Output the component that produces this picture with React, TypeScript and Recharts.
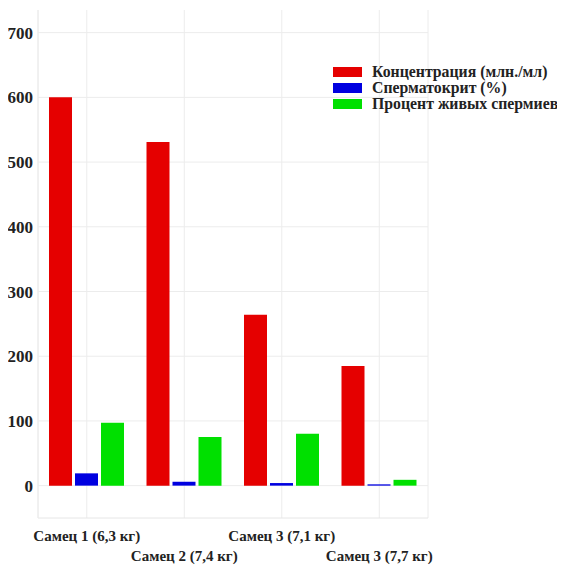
import React from 'react';
import { BarChart, Bar, XAxis, YAxis, CartesianGrid } from 'recharts';

const males = ['Самец 1 (6,3 кг)', 'Самец 2 (7,4 кг)', 'Самец 3 (7,1 кг)', 'Самец 3 (7,7 кг)'];
const concentration = [600, 531, 264, 185];
const spermatocrit = [19, 6, 4, 2];
const liveSperm = [97, 75, 80, 9];
const yTicks = [0, 100, 200, 300, 400, 500, 600, 700];

const series = [
  { key: 'conc', name: 'Концентрация (млн./мл)', color: '#e50000' },
  { key: 'crit', name: 'Сперматокрит (%)', color: '#0000e0' },
  { key: 'live', name: 'Процент живых спермиев', color: '#00e000' },
];

const data = males.map((name, i) => ({
  name,
  conc: concentration[i],
  crit: spermatocrit[i],
  live: liveSperm[i],
}));

const FONT = '"Liberation Serif", "Times New Roman", serif';

// labels alternate between two rows
const StaggeredTick = (props: any) => {
  const { x, y, payload, index } = props;
  const dy = index % 2 === 0 ? 15 : 35;
  return (
    <text x={x} y={y + dy} textAnchor="middle" fontFamily={FONT} fontWeight="bold" fontSize={15} fill="#222">
      {payload.value}
    </text>
  );
};

const LegendBox = () => (
  <div style={{ position: 'absolute', top: 64, left: 333, fontFamily: FONT, fontWeight: 'bold', fontSize: 15.8, color: '#222' }}>
    {series.map((s) => (
      <div key={s.key} style={{ display: 'flex', alignItems: 'center', height: 16, whiteSpace: 'nowrap' }}>
        <span style={{ display: 'inline-block', width: 29, height: 10, background: s.color, marginRight: 10 }} />
        <span>{s.name}</span>
      </div>
    ))}
  </div>
);

export default function App() {
  return (
    <div style={{ position: 'relative', width: 565, height: 566, margin: '-8px 0 0 -8px' }}>
      <BarChart
        width={565}
        height={566}
        data={data}
        margin={{ top: 10, right: 137, bottom: 0, left: 0 }}
        barSize={23}
        barGap={3}
      >
        <CartesianGrid stroke="#ececec" horizontalValues={yTicks} />
        <XAxis
          dataKey="name"
          interval={0}
          height={48}
          tick={<StaggeredTick />}
          tickLine={false}
          axisLine={{ stroke: '#e6e6e6' }}
        />
        <YAxis
          type="number"
          domain={[-50, 735]}
          ticks={yTicks}
          width={38}
          tickLine={false}
          tickSize={0}
          tickMargin={5}
          axisLine={{ stroke: '#ececec' }}
          tick={{ fontFamily: FONT, fontWeight: 'bold', fontSize: 17, fill: '#222' }}
        />
        {series.map((s) => (
          <Bar key={s.key} dataKey={s.key} name={s.name} fill={s.color} isAnimationActive={false} />
        ))}
      </BarChart>
      <LegendBox />
    </div>
  );
}
